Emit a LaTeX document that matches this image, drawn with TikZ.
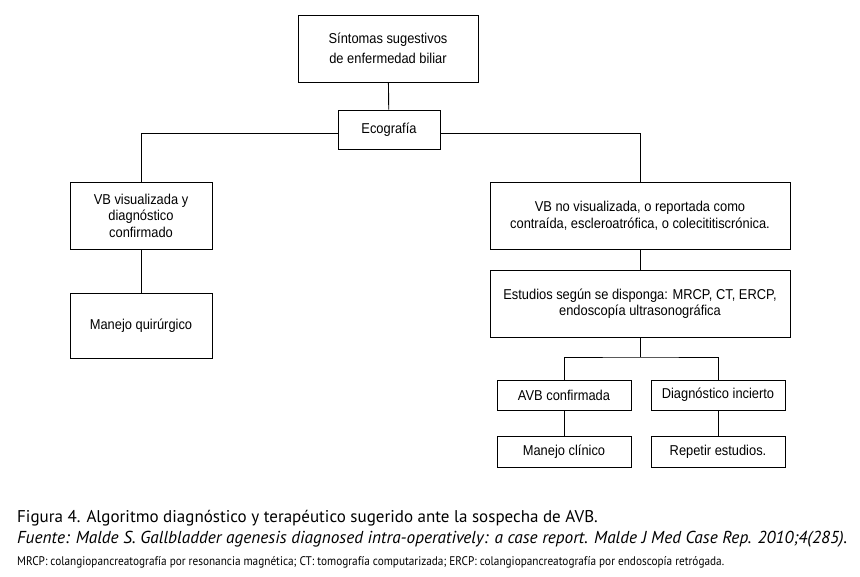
\documentclass[tikz,border=0pt]{standalone}
\usepackage{fontspec}
\newfontfamily\boxfont[FakeStretch=0.9]{Liberation Sans}
\newfontfamily\capfont{PT Sans}
\newfontfamily\notefont[FakeStretch=0.9]{PT Sans}
\begin{document}
\begin{tikzpicture}[x=1pt,y=-1pt,
  box/.style={draw,line width=0.9pt,align=center,inner sep=0pt,
    font=\boxfont\fontsize{14.3}{16.5}\selectfont},
  link/.style={line width=0.9pt}]
\useasboundingbox (0,0) rectangle (860,577);
\node[box,minimum width=180pt,minimum height=67pt] (top) at (388,48.5)
  {Síntomas sugestivos\\[4pt]de enfermedad biliar};
\node[box,minimum width=102pt,minimum height=39pt] (eco) at (389,129.5) {Ecografía};
\node[box,minimum width=142pt,minimum height=67pt] (l1) at (141,215.5)
  {VB visualizada y\\diagnóstico\\confirmado};
\node[box,minimum width=300pt,minimum height=67pt] (r1) at (640,215.5)
  {VB no visualizada, o reportada como\\contraída, escleroatrófica, o colecititiscrónica.};
\node[box,minimum width=142pt,minimum height=65pt] (l2) at (141,325.5) {Manejo quirúrgico};
\node[box,minimum width=300pt,minimum height=67pt] (r2) at (640,303.5)
  {Estudios según se disponga: MRCP, CT, ERCP,\\endoscopía ultrasonográfica};
\node[box,minimum width=134pt,minimum height=30pt] (avb) at (564,395) {AVB confirmada};
\node[box,minimum width=134pt,minimum height=30pt] (diag) at (718,395) {Diagnóstico incierto};
\node[box,minimum width=134pt,minimum height=31pt] (mc) at (564,451.5) {Manejo clínico};
\node[box,minimum width=134pt,minimum height=31pt] (rep) at (718,451.5) {Repetir estudios.};
\coordinate (sp) at (640,357);
\draw[link] (top) -- (eco);
\draw[link] ([yshift=-3.5pt]eco.west) -| (l1.north);
\draw[link] ([yshift=-3.5pt]eco.east) -| (r1.north);
\draw[link] (l1) -- (l2);
\draw[link] (r1) -- (r2);
\draw[link] (r2.south) -- (sp);
\draw[link] (avb.north) |- (sp) -| (diag.north);
\draw[link] (avb) -- (mc);
\draw[link] (diag) -- (rep);
\node[anchor=base west,inner sep=0pt,font=\capfont\fontsize{17}{20}\selectfont] (cap1) at (17,522)
  {Figura 4. Algoritmo diagnóstico y terapéutico sugerido ante la sospecha de AVB.};
\node[anchor=base west,inner sep=0pt,font=\capfont\itshape\fontsize{17.3}{20}\selectfont] (cap2) at (17,543)
  {Fuente: Malde S. Gallbladder agenesis diagnosed intra-operatively: a case report. Malde J Med Case Rep. 2010;4(285).};
\node[anchor=base west,inner sep=0pt,font=\notefont\fontsize{12.5}{14}\selectfont] (cap3) at (17,565)
  {MRCP: colangiopancreatografía por resonancia magnética; CT: tomografía computarizada; ERCP: colangiopancreatografía por endoscopía retrógada.};
\end{tikzpicture}
\end{document}
